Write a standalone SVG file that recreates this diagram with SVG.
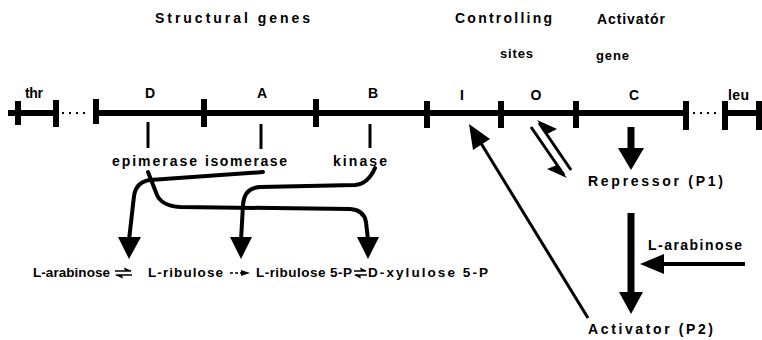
<svg xmlns="http://www.w3.org/2000/svg" width="762" height="340" viewBox="0 0 762 340">
<style>
text{font-family:"Liberation Sans",Arial,sans-serif;font-weight:bold;fill:#000;font-size:14px}
.pw{font-size:13.5px}
.sm{font-size:13px}
.ln{stroke:#000;fill:none}
.chrom{stroke:#000;stroke-width:6;fill:none}
.tick{stroke:#000;stroke-width:6}
.dots{stroke:#000;stroke-width:2;stroke-dasharray:2 5}
.cv{stroke:#000;stroke-width:4;fill:none;stroke-linejoin:round;stroke-linecap:round}
.thin{stroke:#000;stroke-width:3;fill:none}
.hd{fill:#000}
</style>
<rect width="762" height="340" fill="#fff"/>
<g id="headers">
<text x="155" y="23" textLength="155" lengthAdjust="spacing">Structural genes</text>
<text x="455" y="23" textLength="97" lengthAdjust="spacing">Controlling</text>
<text class="sm" x="500" y="58" textLength="33" lengthAdjust="spacing">sites</text>
<text x="597" y="24" textLength="68" lengthAdjust="spacing">Activatór</text>
<text class="sm" x="596" y="60" textLength="33" lengthAdjust="spacing">gene</text>
</g>
<g id="chromosome">
<line class="chrom" x1="8" y1="113" x2="56" y2="113"/>
<line class="dots" x1="62" y1="113" x2="90" y2="113"/>
<line class="chrom" x1="96" y1="113" x2="686" y2="113"/>
<line class="dots" x1="693" y1="113" x2="720" y2="113"/>
<line class="chrom" x1="725" y1="113" x2="762" y2="113"/>
<line class="tick" x1="18" y1="101" x2="18" y2="125"/>
<line class="tick" x1="56" y1="100" x2="56" y2="127"/>
<line class="tick" x1="96" y1="99" x2="96" y2="124"/>
<line class="tick" x1="204" y1="99" x2="204" y2="127"/>
<line class="tick" x1="316" y1="99" x2="316" y2="127"/>
<line class="tick" x1="427" y1="101" x2="427" y2="128"/>
<line class="tick" x1="501" y1="101" x2="501" y2="128"/>
<line class="tick" x1="576" y1="101" x2="576" y2="128"/>
<line class="tick" x1="686" y1="101" x2="686" y2="130"/>
<line class="tick" x1="725" y1="101" x2="725" y2="130"/>
<line class="tick" x1="759" y1="101" x2="759" y2="130"/>
<text x="25" y="98" textLength="18" lengthAdjust="spacing">thr</text>
<text x="150" y="98" text-anchor="middle">D</text>
<text x="262" y="98" text-anchor="middle">A</text>
<text x="373" y="98" text-anchor="middle">B</text>
<text x="462" y="100" text-anchor="middle">I</text>
<text x="536" y="100" text-anchor="middle">O</text>
<text x="634" y="100" text-anchor="middle">C</text>
<text x="728" y="100" textLength="21" lengthAdjust="spacing">leu</text>
</g>
<g id="enzymes">
<line class="thin" x1="148" y1="122" x2="148" y2="148"/>
<line class="thin" x1="261" y1="124" x2="261" y2="149"/>
<line class="thin" x1="370" y1="124" x2="370" y2="148"/>
<text x="112" y="166" textLength="85" lengthAdjust="spacing">epimerase</text>
<text x="205" y="166" textLength="82" lengthAdjust="spacing">isomerase</text>
<text x="333" y="166" textLength="54" lengthAdjust="spacing">kinase</text>
</g>
<g id="pathway">
<text class="pw" x="33" y="277" textLength="77" lengthAdjust="spacing">L-arabinose</text>
<text class="pw" x="148" y="277" textLength="75" lengthAdjust="spacing">L-ribulose</text>
<text class="pw" x="256" y="277" textLength="96" lengthAdjust="spacing">L-ribulose 5-P</text>
<text class="pw" x="368" y="277" textLength="120" lengthAdjust="spacing">D-xylulose 5-P</text>
</g>
<g id="regulation">
<text x="588" y="186" textLength="135" lengthAdjust="spacing">Repressor (P1)</text>
<text x="648" y="250" textLength="94" lengthAdjust="spacing">L-arabinose</text>
<text x="588" y="334" textLength="125" lengthAdjust="spacing">Activator (P2)</text>
</g>
<g id="connectors">
<path class="cv" d="M263,172 Q210,176 150,180 Q136,182 134,196 L129,240"/>
<polygon class="hd" points="118,237 141,237 129,259"/>
<path class="cv" d="M148,172 L157,195 Q162,206 180,207 L350,209 Q364,210 366,222 L368,240"/>
<polygon class="hd" points="357,237 379,237 368,259"/>
<path class="cv" d="M375,168 Q368,184 355,185 L260,187 Q244,188 243,205 L241,240"/>
<polygon class="hd" points="230,237 252,237 241,259"/>
<line class="ln" stroke-width="1.5" x1="115" y1="271" x2="131" y2="271"/>
<polygon class="hd" points="132,271 124,267.5 125,271"/>
<line class="ln" stroke-width="1.5" x1="116" y1="275" x2="132" y2="275"/>
<polygon class="hd" points="115,275 123,278.5 122,275"/>
<line class="ln" stroke-width="1.5" stroke-dasharray="3 2" x1="230" y1="273" x2="243" y2="273"/>
<polygon class="hd" points="250,273 241,270 241,276"/>
<line class="ln" stroke-width="1.5" x1="354" y1="271" x2="366" y2="271"/>
<polygon class="hd" points="367,271 360,267.5 361,271"/>
<line class="ln" stroke-width="1.5" x1="355" y1="275" x2="367" y2="275"/>
<polygon class="hd" points="354,275 361,278.5 360,275"/>
<line class="thin" x1="539" y1="123" x2="571" y2="170"/>
<polygon class="hd" points="537,120 557,129 547,134"/>
<line class="thin" x1="531" y1="127" x2="564" y2="175"/>
<polygon class="hd" points="567,178 547,169 557,165"/>
<line class="ln" stroke-width="7" x1="631" y1="127" x2="631" y2="150"/>
<polygon class="hd" points="618,148 644,148 631,170"/>
<line class="ln" stroke-width="7" x1="631" y1="213" x2="631" y2="295"/>
<polygon class="hd" points="619,292 643,292 631,314"/>
<line class="ln" stroke-width="4" x1="745" y1="264" x2="660" y2="264"/>
<polygon class="hd" points="640,264 664,254 664,274"/>
<line class="thin" x1="588" y1="318" x2="479" y2="140"/>
<polygon class="hd" points="469,124 490,139 473,150"/>
</g>
</svg>
